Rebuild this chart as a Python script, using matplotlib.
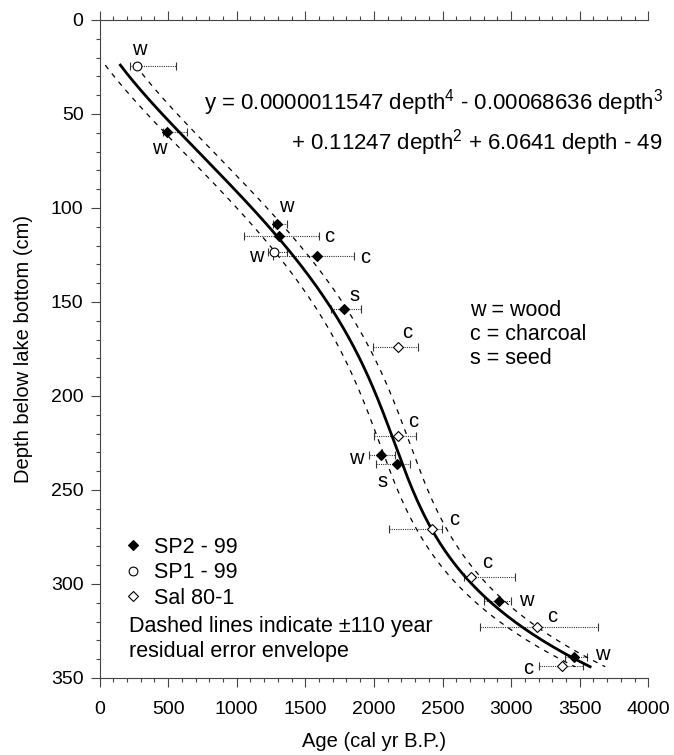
import numpy as np
import matplotlib.pyplot as plt
from matplotlib.ticker import MultipleLocator
from matplotlib.lines import Line2D

plt.rcParams['font.family'] = ['Liberation Sans', 'DejaVu Sans']
plt.rcParams['mathtext.fontset'] = 'custom'
plt.rcParams['mathtext.rm'] = 'Liberation Sans'
plt.rcParams['mathtext.it'] = 'Liberation Sans:italic'

# SP2 - 99 (filled diamonds): age, depth, calibrated range, material
sp2_age = [490, 1296, 1308, 1583, 1784, 2052, 2171, 2914, 3462]
sp2_depth = [59.4, 108.5, 114.7, 125.5, 153.7, 231.4, 236.3, 308.9, 338.8]
sp2_min = [460, 1267, 1055, 1265, 1685, 1964, 2015, 2805, 3393]
sp2_max = [636, 1364, 1602, 1855, 1906, 2154, 2263, 2999, 3551]
sp2_kind = ['w', 'w', 'c', 'c', 's', 'w', 's', 'w', 'w']

# SP1 - 99 (open circles)
sp1_age = [276, 1274]
sp1_depth = [24.3, 123.6]
sp1_min = [222, 1230]
sp1_max = [558, 1369]
sp1_kind = ['w', 'w']

# Sal 80-1 (open diamonds)
sal_age = [2173, 2173, 2421, 2705, 3189, 3369]
sal_depth = [174.2, 221.3, 270.9, 296.1, 322.9, 343.8]
sal_min = [1991, 2001, 2112, 2660, 2773, 3201]
sal_max = [2324, 2305, 2496, 3028, 3631, 3526]
sal_kind = ['c', 'c', 'c', 'c', 'c', 'c']

# age-depth model printed on the chart (highest power first) and envelope
coefs = [0.0000011547, -0.00068636, 0.11247, 6.0641, -49]
depth_top = 24
depth_bottom = 344
envelope = 110

# where each letter sits relative to its point (pixels)
sp2_off = [(-7, -17), (9, 17), (50, -1), (48, -2), (10, 13), (-25, -3),
           (-15, -17), (27, 0), (28, 2)]
sp1_off = [(2, 16), (-18, -4)]
sal_off = [(10, 15), (16, 15), (23, 10), (17, 14), (15, 11), (-34, -2)]

W, H = 674, 755
fig = plt.figure(figsize=(W / 100, H / 100), dpi=100)
ax = fig.add_axes([99.5 / W, 1 - 678 / H, 548.8 / W, 658 / H])

d = np.linspace(depth_top, depth_bottom, 300)
age_fit = np.polyval(coefs, d)
ax.plot(age_fit, d, color='black', lw=2.0, zorder=3)
for s in (-1, 1):
    ax.plot(age_fit + s * envelope, d, color='black', lw=0.9,
            dashes=(4, 4.5), zorder=3)


def draw_series(age, depth, lo, hi, kind, off, marker, face, ms):
    age = np.array(age)
    xerr = [age - np.array(lo), np.array(hi) - age]
    eb = ax.errorbar(age, depth, xerr=xerr, fmt='none', ecolor='#333333',
                     elinewidth=0.8, capsize=2.8, capthick=0.8, zorder=2)
    eb[2][0].set_linestyle((0, (1, 1)))
    ax.plot(age, depth, linestyle='none', marker=marker, ms=ms,
            mfc=face, mec='black', mew=0.8, zorder=4)
    for x, y, k, o in zip(age, depth, kind, off):
        ax.annotate(k, (x, y), xytext=o, textcoords='offset pixels',
                    ha='center', va='center', fontsize=14.5)


draw_series(sp2_age, sp2_depth, sp2_min, sp2_max, sp2_kind, sp2_off, 'D', 'black', 5.3)
draw_series(sp1_age, sp1_depth, sp1_min, sp1_max, sp1_kind, sp1_off, 'o', 'white', 6.3)
draw_series(sal_age, sal_depth, sal_min, sal_max, sal_kind, sal_off, 'D', 'white', 5.3)

ax.set_xlim(0, 4000)
ax.set_ylim(350, 0)
ax.xaxis.set_major_locator(MultipleLocator(500))
ax.xaxis.set_minor_locator(MultipleLocator(100))
ax.yaxis.set_major_locator(MultipleLocator(50))
ax.yaxis.set_minor_locator(MultipleLocator(10))
ax.tick_params(axis='x', which='both', direction='out', top=True,
               labeltop=False, color='#444444', width=0.8)
ax.tick_params(axis='y', which='both', direction='out', right=False,
               color='#444444', width=0.8)
ax.tick_params(which='major', length=6.5)
ax.tick_params(which='minor', length=3.2)
ax.tick_params(axis='x', which='major', labelsize=14, pad=10)
ax.tick_params(axis='y', which='major', labelsize=14, pad=5)
ax.spines['right'].set_visible(False)
for side in ('left', 'top', 'bottom'):
    ax.spines[side].set_color('#444444')
    ax.spines[side].set_linewidth(0.8)

ax.set_xlabel('Age (cal yr B.P.)', fontsize=14.5, labelpad=10)
ax.set_ylabel('Depth below lake bottom (cm)', fontsize=14.5, labelpad=13)

# equation
fig.text(663 / W, 1 - 109.4 / H,
         'y = 0.0000011547 depth$^4$ - 0.00068636 depth$^3$',
         ha='right', va='baseline', fontsize=16)
fig.text(663 / W, 1 - 149 / H,
         '+ 0.11247 depth$^2$ + 6.0641 depth - 49',
         ha='right', va='baseline', fontsize=16)

# material key
for txt, yb in zip(['w = wood', 'c = charcoal', 's = seed'], [315.7, 340, 364.3]):
    fig.text(470 / W, 1 - yb / H, txt, ha='left', va='baseline', fontsize=15.5)

# envelope note
fig.text(129.3 / W, 1 - 631.7 / H, 'Dashed lines indicate \u00b1110 year',
         ha='left', va='baseline', fontsize=15.5)
fig.text(129.3 / W, 1 - 656.7 / H, 'residual error envelope',
         ha='left', va='baseline', fontsize=15.5)

handles = [
    Line2D([], [], ls='none', marker='D', ms=5.3, mfc='black', mec='black', mew=0.8),
    Line2D([], [], ls='none', marker='o', ms=6.3, mfc='white', mec='black', mew=0.8),
    Line2D([], [], ls='none', marker='D', ms=5.3, mfc='white', mec='black', mew=0.8),
]
fig.legend(handles, ['SP2 - 99', 'SP1 - 99', 'Sal 80-1'],
           loc='upper left', bbox_to_anchor=(122 / W, 1 - 537 / H),
           frameon=False, borderpad=0, borderaxespad=0, handlelength=1.0,
           handletextpad=0.5, labelspacing=0.2, fontsize=15.5)

fig.savefig('out.png', dpi=100)
